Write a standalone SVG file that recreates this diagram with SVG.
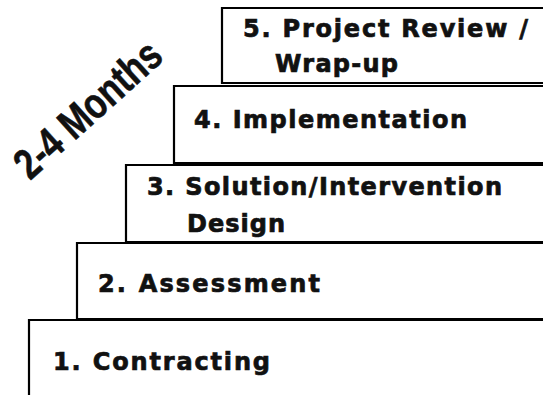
<svg xmlns="http://www.w3.org/2000/svg" width="543" height="395" viewBox="0 0 543 395">
<style>
.box{fill:#fff;stroke:#000;stroke-width:2.2}
.lbl{font-family:"DejaVu Sans","Liberation Sans",sans-serif;font-weight:bold;font-size:24px;fill:#111;stroke:#111;stroke-width:0.7}
.months{font-family:"Liberation Sans","Arial",sans-serif;font-weight:bold;font-size:43px;fill:#111;stroke:#111;stroke-width:0.6}
</style>
<rect width="543" height="395" fill="#fff"/>
<g id="step1"><path class="box" d="M29,400 V320 H550"/><text class="lbl" x="53" y="370" textLength="217" lengthAdjust="spacing">1. Contracting</text></g>
<g id="step2"><path class="box" d="M77,320 V243 H550 M77,319 H550"/><text class="lbl" x="98" y="292" textLength="222" lengthAdjust="spacing">2. Assessment</text></g>
<g id="step3"><path class="box" d="M126,243 V165 H550 M126,242 H550"/><text class="lbl" x="147" y="195" textLength="355" lengthAdjust="spacing">3. Solution/Intervention</text><text class="lbl" x="187" y="232" textLength="98" lengthAdjust="spacing">Design</text></g>
<g id="step4"><path class="box" d="M174,164 V86 H550 M174,163 H550"/><text class="lbl" x="194" y="128" textLength="273" lengthAdjust="spacing">4. Implementation</text></g>
<g id="step5"><path class="box" d="M222,84 V8 H550 M222,83 H550"/><text class="lbl" x="243" y="37" textLength="285" lengthAdjust="spacing">5. Project Review /</text><text class="lbl" x="275" y="72" textLength="123" lengthAdjust="spacing">Wrap-up</text></g>
<g id="connectors"/>
<text class="months" transform="translate(30,181) rotate(-42)" textLength="182" lengthAdjust="spacingAndGlyphs">2-4 Months</text>
</svg>
